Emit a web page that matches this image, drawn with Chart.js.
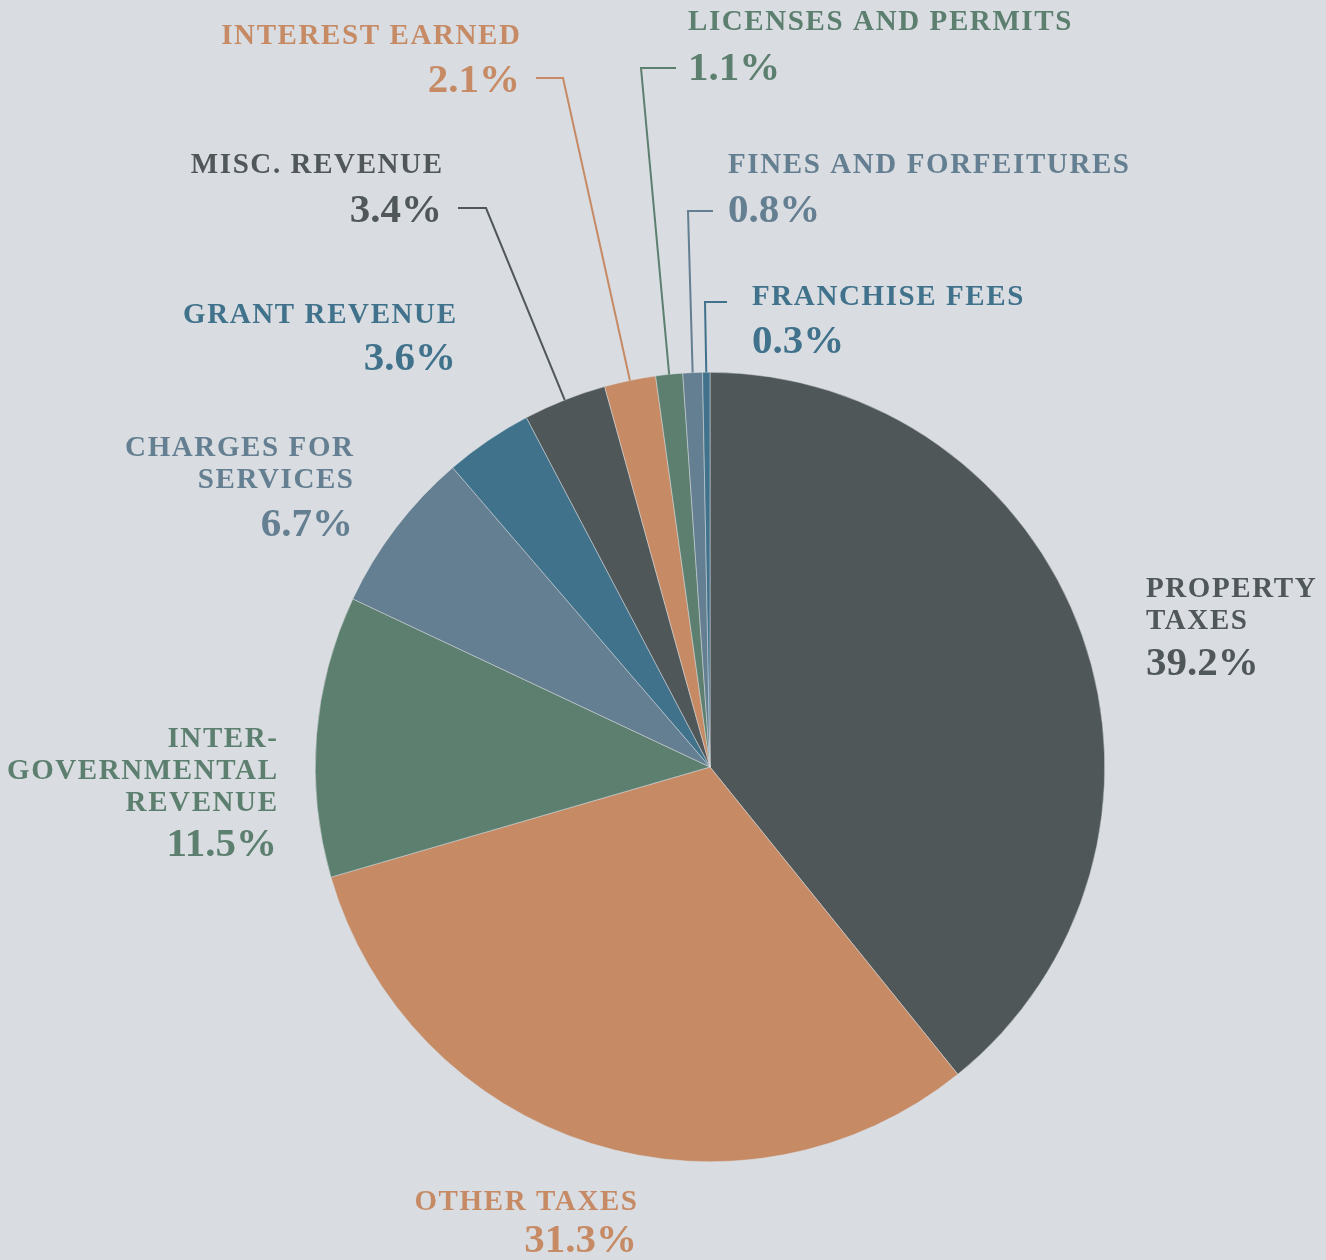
<!DOCTYPE html>
<html>
<head>
<meta charset="utf-8">
<script src="https://cdn.jsdelivr.net/npm/chart.js@4.4.0/dist/chart.umd.min.js"></script>
<style>
  html, body { margin: 0; padding: 0; background: #d9dce0; }
  #wrap { width: 1326px; height: 1260px; }
</style>
</head>
<body>
<div id="wrap"><canvas id="pieChart" width="1326" height="1260"></canvas></div>
<script>
// revenue categories, clockwise from 12 o'clock
const categories = [
  ['PROPERTY', 'TAXES'],
  ['OTHER TAXES'],
  ['INTER-', 'GOVERNMENTAL', 'REVENUE'],
  ['CHARGES FOR', 'SERVICES'],
  ['GRANT REVENUE'],
  ['MISC. REVENUE'],
  ['INTEREST EARNED'],
  ['LICENSES AND PERMITS'],
  ['FINES AND FORFEITURES'],
  ['FRANCHISE FEES']
];
const shares = [39.2, 31.3, 11.5, 6.7, 3.6, 3.4, 2.1, 1.1, 0.8, 0.3];
const shareLabels = ['39.2%', '31.3%', '11.5%', '6.7%', '3.6%', '3.4%', '2.1%', '1.1%', '0.8%', '0.3%'];

const sliceColors = ['#4f5759', '#c68a65', '#5c7f6f', '#647f91', '#40728c',
                     '#4f5759', '#c68a65', '#5c7f6f', '#647f91', '#40728c'];

// where each label sits: align, x, baselines of name lines, baseline of percent
// leader: [elbowX, elbowY, endX] for the thin slices
const labelLayout = [
  { align: 'left',  x: 1146, lines: [597, 629], pct: 675 },
  { align: 'right', x: 637,  lines: [1210], pct: 1252 },
  { align: 'right', x: 277,  lines: [747, 779, 811], pct: 856 },
  { align: 'right', x: 353,  lines: [456, 488], pct: 536 },
  { align: 'right', x: 456,  lines: [323], pct: 370 },
  { align: 'right', x: 442,  lines: [173], pct: 222, leader: [486, 208, 458] },
  { align: 'right', x: 520,  lines: [44], pct: 92, leader: [563, 78, 536] },
  { align: 'left',  x: 688,  lines: [30], pct: 80, leader: [641, 68, 676] },
  { align: 'left',  x: 728,  lines: [173], pct: 222, leader: [688, 211, 713] },
  { align: 'left',  x: 752,  lines: [305], pct: 353, leader: [705, 302, 727] }
];

const NAME_FONT = 'bold 29px "Liberation Serif", "Times New Roman", serif';
const PCT_FONT = 'bold 41px "Liberation Serif", "Times New Roman", serif';
const NAME_SPACING = 1.6;

const bgPlugin = {
  id: 'bg',
  beforeDraw(chart) {
    const ctx = chart.ctx;
    ctx.save();
    ctx.fillStyle = '#d9dce0';
    ctx.fillRect(0, 0, chart.width, chart.height);
    ctx.restore();
  }
};

const labelPlugin = {
  id: 'sliceLabels',
  afterDraw(chart) {
    const ctx = chart.ctx;
    const arcs = chart.getDatasetMeta(0).data;
    ctx.save();
    arcs.forEach((arc, i) => {
      const lay = labelLayout[i];
      const color = sliceColors[i];
      ctx.fillStyle = color;
      ctx.strokeStyle = color;

      if (lay.leader) {
        const mid = (arc.startAngle + arc.endAngle) / 2;
        const px = arc.x + Math.cos(mid) * arc.outerRadius;
        const py = arc.y + Math.sin(mid) * arc.outerRadius;
        ctx.lineWidth = 2;
        ctx.beginPath();
        ctx.moveTo(px, py);
        ctx.lineTo(lay.leader[0], lay.leader[1]);
        ctx.lineTo(lay.leader[2], lay.leader[1]);
        ctx.stroke();
      }

      ctx.textAlign = lay.align;
      ctx.textBaseline = 'alphabetic';
      ctx.font = NAME_FONT;
      ctx.letterSpacing = NAME_SPACING + 'px';
      const shift = lay.align === 'right' ? NAME_SPACING : 0;
      categories[i].forEach((line, k) => {
        ctx.fillText(line, lay.x + shift, lay.lines[k]);
      });
      ctx.font = PCT_FONT;
      ctx.letterSpacing = '0px';
      ctx.fillText(shareLabels[i], lay.x, lay.pct);
    });
    ctx.restore();
  }
};

new Chart(document.getElementById('pieChart'), {
  type: 'pie',
  data: {
    labels: categories.map(c => c.join(' ')),
    datasets: [{
      data: shares,
      backgroundColor: sliceColors,
      borderColor: '#d9dce0',
      borderWidth: 0.5
    }]
  },
  options: {
    responsive: false,
    animation: false,
    layout: { padding: { left: 315, right: 221, top: 372, bottom: 98 } },
    plugins: {
      legend: { display: false },
      tooltip: { enabled: false }
    }
  },
  plugins: [bgPlugin, labelPlugin]
});
</script>
</body>
</html>
